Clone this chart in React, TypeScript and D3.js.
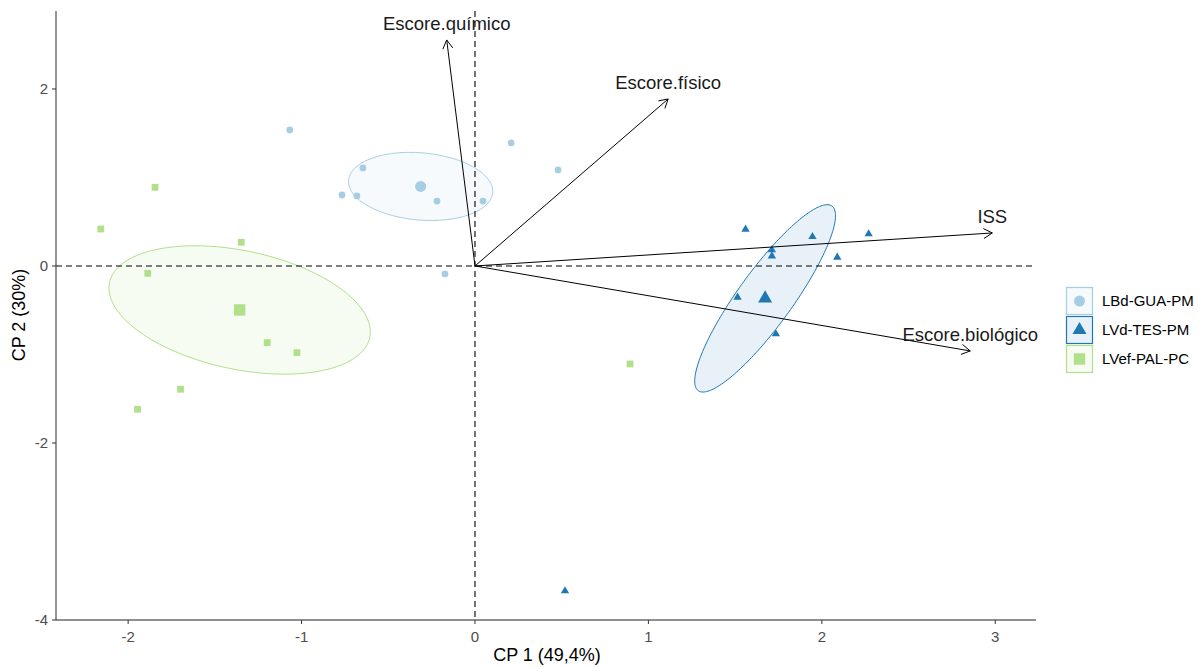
import React from "react";
import * as d3 from "d3";

// grupos e cores
const groups = ["LBd-GUA-PM", "LVd-TES-PM", "LVef-PAL-PC"];
const groupColors = ["#a6cee3", "#1f78b4", "#b2df8a"];

// coordenadas dos individuos (CP1, CP2)
const guaX = [-1.068, -0.646, -0.767, -0.681, -0.219, 0.046, 0.208, 0.479, -0.173];
const guaY = [1.537, 1.107, 0.802, 0.791, 0.734, 0.734, 1.39, 1.085, -0.09];
const tesX = [1.56, 1.946, 2.27, 1.712, 1.712, 2.089, 1.514, 1.735, 0.519];
const tesY = [0.415, 0.331, 0.362, 0.181, 0.113, 0.098, -0.354, -0.768, -3.672];
const palX = [-2.158, -1.845, -1.348, -1.887, -1.198, -1.027, -1.698, -1.946, 0.894];
const palY = [0.418, 0.889, 0.268, -0.083, -0.866, -0.979, -1.393, -1.619, -1.107];

// variaveis (setas)
const varNames = ["Escore.químico", "Escore.físico", "ISS", "Escore.biológico"];
const varX = [-0.163, 1.114, 2.983, 2.856];
const varY = [2.554, 1.887, 0.373, -0.96];

const xTicks = [-2, -1, 0, 1, 2, 3];
const yTicks = [-4, -2, 0, 2];

const W = 1203;
const H = 667;
const font = "'Liberation Sans', Arial, sans-serif";

// elipse de confianca em torno do baricentro (como FactoMineR::coord.ellipse)
function confEllipse(xs: number[], ys: number[], level = 0.95) {
  const n = xs.length;
  const mx = d3.mean(xs) as number;
  const my = d3.mean(ys) as number;
  const vx = (d3.variance(xs) as number) / n;
  const vy = (d3.variance(ys) as number) / n;
  let cxy = 0;
  xs.forEach((x, i) => (cxy += (x - mx) * (ys[i] - my)));
  cxy = cxy / (n - 1) / n;
  const t = Math.sqrt(-2 * Math.log(1 - level));
  const sx = Math.sqrt(vx);
  const sy = Math.sqrt(vy);
  const d = Math.acos(cxy / (sx * sy));
  return d3.range(201).map((i) => {
    const a = (i / 200) * 2 * Math.PI;
    return [mx + t * sx * Math.cos(a + d / 2), my + t * sy * Math.cos(a - d / 2)] as [number, number];
  });
}

export default function App() {
  const x = d3.scaleLinear().domain([-2.416, 3.235]).range([56, 1036]);
  const y = d3.scaleLinear().domain([-4.0, 2.881]).range([620, 11]);

  const data = [
    { xs: guaX, ys: guaY, shape: d3.symbolCircle, small: 36, big: 95 },
    { xs: tesX, ys: tesY, shape: d3.symbolTriangle, small: 30, big: 85 },
    { xs: palX, ys: palY, shape: d3.symbolSquare, small: 46, big: 130 },
  ];

  const line = d3
    .line<[number, number]>()
    .x((d) => x(d[0]))
    .y((d) => y(d[1]));

  const x0 = x(0);
  const y0 = y(0);

  return (
    <svg
      width={W}
      height={H}
      style={{ position: "absolute", left: 0, top: 0, background: "#fff" }}
      fontFamily={font}
    >
      {/* elipses */}
      {data.map((g, i) => (
        <path
          key={"el" + i}
          d={line(confEllipse(g.xs, g.ys)) as string}
          fill={groupColors[i]}
          fillOpacity={0.1}
          stroke={groupColors[i]}
          strokeWidth={1}
        />
      ))}

      {/* linhas de referencia */}
      <line x1={56} x2={1036} y1={y0} y2={y0} stroke="#000" strokeDasharray="6,4" strokeWidth={1.1} />
      <line x1={x0} x2={x0} y1={11} y2={620} stroke="#000" strokeDasharray="6,4" strokeWidth={1.1} />

      {/* pontos */}
      {data.map((g, i) => (
        <g key={"pt" + i} fill={groupColors[i]}>
          {g.xs.map((v, j) => (
            <path
              key={j}
              transform={`translate(${x(v)},${y(g.ys[j])})`}
              d={d3.symbol(g.shape, g.small)() as string}
            />
          ))}
          <path
            transform={`translate(${x(d3.mean(g.xs) as number)},${y(d3.mean(g.ys) as number)})`}
            d={d3.symbol(g.shape, g.big)() as string}
          />
        </g>
      ))}

      {/* setas das variaveis */}
      {varNames.map((name, i) => {
        const ex = x(varX[i]);
        const ey = y(varY[i]);
        const ang = Math.atan2(ey - y0, ex - x0);
        const len = 10;
        const h1 = [ex - len * Math.cos(ang - Math.PI / 6), ey - len * Math.sin(ang - Math.PI / 6)];
        const h2 = [ex - len * Math.cos(ang + Math.PI / 6), ey - len * Math.sin(ang + Math.PI / 6)];
        return (
          <g key={name}>
            <line x1={x0} y1={y0} x2={ex} y2={ey} stroke="#000" strokeWidth={1} />
            <polyline
              points={`${h1[0]},${h1[1]} ${ex},${ey} ${h2[0]},${h2[1]}`}
              fill="none"
              stroke="#000"
              strokeWidth={1}
            />
            <text x={ex} y={ey - 10} textAnchor="middle" fontSize={18.5} fill="#1a1a1a">
              {name}
            </text>
          </g>
        );
      })}

      {/* eixos */}
      <line x1={56} x2={56} y1={11} y2={620} stroke="#4d4d4d" strokeWidth={1.2} />
      <line x1={56} x2={1036} y1={620} y2={620} stroke="#222" strokeWidth={1.2} />
      {xTicks.map((t) => (
        <g key={"xt" + t}>
          <line x1={x(t)} x2={x(t)} y1={620} y2={624} stroke="#333" />
          <text x={x(t)} y={642} textAnchor="middle" fontSize={15} fill="#4d4d4d">
            {t}
          </text>
        </g>
      ))}
      {yTicks.map((t) => (
        <g key={"yt" + t}>
          <line x1={52} x2={56} y1={y(t)} y2={y(t)} stroke="#333" />
          <text x={48} y={y(t) + 5} textAnchor="end" fontSize={15} fill="#4d4d4d">
            {t}
          </text>
        </g>
      ))}
      <text x={547} y={661} textAnchor="middle" fontSize={18} fill="#000">
        CP 1 (49,4%)
      </text>
      <text
        transform={`translate(25,315) rotate(-90)`}
        textAnchor="middle"
        fontSize={18}
        fill="#000"
      >
        CP 2 (30%)
      </text>

      {/* legenda */}
      {groups.map((name, i) => {
        const cy = 301 + i * 29;
        return (
          <g key={"lg" + name}>
            <rect
              x={1066.5}
              y={cy - 13.5}
              width={26}
              height={27}
              fill={groupColors[i]}
              fillOpacity={0.1}
              stroke={groupColors[i]}
              strokeWidth={1.2}
            />
            <path
              transform={`translate(1079.5,${cy})`}
              d={d3.symbol(data[i].shape, data[i].big)() as string}
              fill={groupColors[i]}
            />
            <text x={1102} y={cy + 5} fontSize={15} fill="#000">
              {name}
            </text>
          </g>
        );
      })}
    </svg>
  );
}
